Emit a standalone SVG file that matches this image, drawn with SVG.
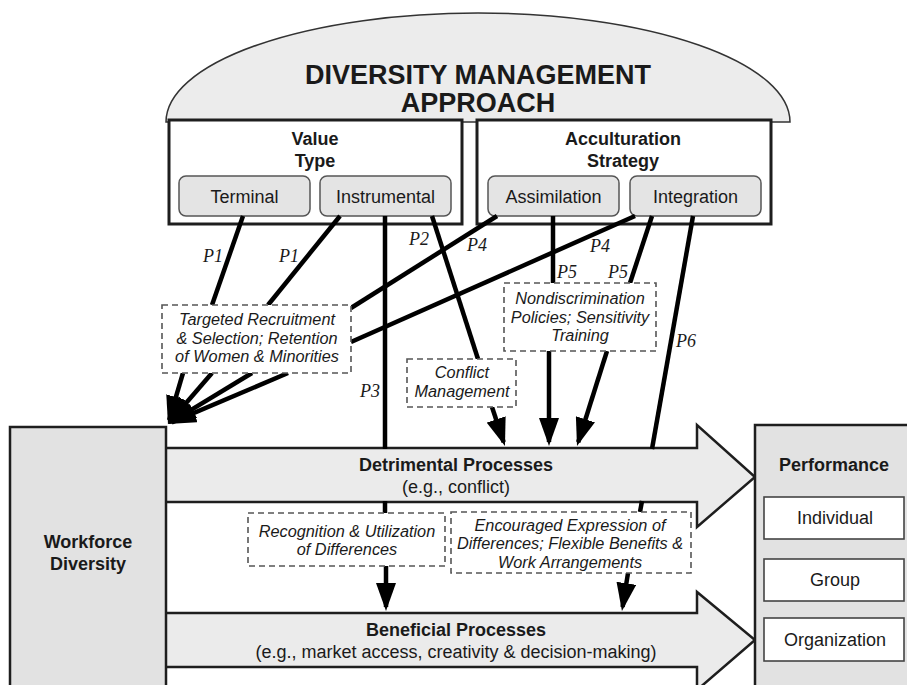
<svg xmlns="http://www.w3.org/2000/svg" width="907" height="685" viewBox="0 0 907 685">
  <style>
    .sans { font-family: "Liberation Sans", Arial, sans-serif; fill: #1a1a1a; }
    .title { font-size: 27px; font-weight: bold; }
    .head { font-size: 18px; font-weight: bold; }
    .pilltext { font-size: 18px; }
    .note { font-size: 16.3px; font-style: italic; }
    .plain { font-size: 18px; }
    .plabel { font-family: "Liberation Serif", "Times New Roman", serif; font-style: italic; font-size: 18px; fill: #1a1a1a; }
    .frame { fill: #ffffff; stroke: #1e1e1e; stroke-width: 3; }
    .pill { fill: #e4e4e4; stroke: #555555; stroke-width: 1.5; }
    .dash { fill: #ffffff; stroke: #555555; stroke-width: 1.6; stroke-dasharray: 6 4; }
    .band { fill: #ebebeb; stroke: #1e1e1e; stroke-width: 2.5; stroke-linejoin: miter; }
    .block { fill: #e2e2e2; stroke: #1e1e1e; stroke-width: 2.5; }
    .sub { fill: #ffffff; stroke: #444444; stroke-width: 1.6; }
    .link { stroke: #000000; stroke-width: 4.5; fill: none; }
    .arrow { stroke: #000000; stroke-width: 4.5; fill: none; marker-end: url(#ah); }
  </style>
  <defs>
    <marker id="ah" markerUnits="userSpaceOnUse" viewBox="0 0 28 20" markerWidth="28" markerHeight="20" refX="24" refY="10" orient="auto">
      <path d="M0,0 L28,10 L0,20 Z" fill="#000000"/>
    </marker>
  </defs>

  <!-- Diversity management approach (dome) -->
  <g id="approach">
    <path d="M166,122 A312,109 0 0 1 790,122 Z" fill="#ececec" stroke="#333333" stroke-width="1.5"/>
    <text class="sans title" x="478" y="84" text-anchor="middle">DIVERSITY MANAGEMENT</text>
    <text class="sans title" x="478" y="112" text-anchor="middle">APPROACH</text>
  </g>

  <g id="value-type">
    <rect class="frame" x="169" y="120" width="293" height="104"/>
    <text class="sans head" x="315" y="145" text-anchor="middle">Value</text>
    <text class="sans head" x="315" y="167" text-anchor="middle">Type</text>
  </g>
  <g id="terminal">
    <rect class="pill" x="179" y="176" width="131" height="40" rx="7"/>
    <text class="sans pilltext" x="244.5" y="203" text-anchor="middle">Terminal</text>
  </g>
  <g id="instrumental">
    <rect class="pill" x="320" y="176" width="131" height="40" rx="7"/>
    <text class="sans pilltext" x="385.5" y="203" text-anchor="middle">Instrumental</text>
  </g>

  <g id="acculturation-strategy">
    <rect class="frame" x="477" y="120" width="294" height="104"/>
    <text class="sans head" x="623" y="145" text-anchor="middle">Acculturation</text>
    <text class="sans head" x="623" y="167" text-anchor="middle">Strategy</text>
  </g>
  <g id="assimilation">
    <rect class="pill" x="488" y="176" width="131" height="40" rx="7"/>
    <text class="sans pilltext" x="553.5" y="203" text-anchor="middle">Assimilation</text>
  </g>
  <g id="integration">
    <rect class="pill" x="630" y="176" width="131" height="40" rx="7"/>
    <text class="sans pilltext" x="695.5" y="203" text-anchor="middle">Integration</text>
  </g>

  <!-- Process arrows -->
  <g id="detrimental">
    <path class="band" d="M165,448 L697,448 L697,425 L755,477 L697,527 L697,502 L165,502 Z"/>
    <text class="sans head" x="456" y="471" text-anchor="middle">Detrimental Processes</text>
    <text class="sans plain" x="456" y="493" text-anchor="middle">(e.g., conflict)</text>
  </g>
  <g id="beneficial">
    <path class="band" d="M165,613 L697,613 L697,592 L755,640 L697,690 L697,667 L165,667 Z"/>
    <text class="sans head" x="456" y="636" text-anchor="middle">Beneficial Processes</text>
    <text class="sans plain" x="456" y="658" text-anchor="middle">(e.g., market access, creativity &amp; decision-making)</text>
  </g>

  <g id="workforce-diversity">
    <rect class="block" x="10" y="427" width="156" height="270"/>
    <text class="sans head" x="88" y="548" text-anchor="middle">Workforce</text>
    <text class="sans head" x="88" y="570" text-anchor="middle">Diversity</text>
  </g>

  <g id="performance">
    <rect class="block" x="755" y="425" width="160" height="270"/>
    <text class="sans head" x="834" y="471" text-anchor="middle">Performance</text>
    <rect class="sub" x="764" y="497" width="140" height="42"/>
    <text class="sans pilltext" x="835" y="524" text-anchor="middle">Individual</text>
    <rect class="sub" x="764" y="559" width="140" height="42"/>
    <text class="sans pilltext" x="835" y="586" text-anchor="middle">Group</text>
    <rect class="sub" x="764" y="618" width="140" height="43"/>
    <text class="sans pilltext" x="835" y="646" text-anchor="middle">Organization</text>
  </g>

  <!-- Connectors -->
  <g id="connectors">
    <line class="link" x1="243" y1="216" x2="212" y2="305"/>
    <line class="link" x1="340" y1="216" x2="268" y2="305"/>
    <line class="link" x1="385" y1="216" x2="385" y2="449"/>
    <line class="link" x1="385" y1="501" x2="385" y2="513"/>
    <line class="link" x1="432" y1="216" x2="478" y2="359"/>
    <line class="link" x1="497" y1="216" x2="351" y2="308"/>
    <line class="link" x1="635" y1="216" x2="351" y2="342"/>
    <line class="link" x1="553" y1="216" x2="553" y2="283"/>
    <line class="link" x1="652" y1="216" x2="630" y2="283"/>
    <line class="link" x1="693" y1="216" x2="652" y2="449"/>
    <line class="link" x1="642" y1="501" x2="640" y2="512"/>
    <line class="arrow" x1="492" y1="407" x2="503.7" y2="442.2"/>
    <line class="arrow" x1="549" y1="351" x2="549" y2="442"/>
    <line class="arrow" x1="607" y1="351" x2="578.2" y2="442.2"/>
    <line class="arrow" x1="386" y1="566" x2="386" y2="607"/>
    <line class="arrow" x1="628" y1="573" x2="622.6" y2="607"/>
    <line class="arrow" x1="183" y1="373" x2="169.1" y2="420.2"/>
    <line class="arrow" x1="212" y1="373" x2="170.6" y2="421"/>
    <line class="arrow" x1="252" y1="373" x2="171.4" y2="421.9"/>
    <line class="arrow" x1="288" y1="373" x2="171.7" y2="422.4"/>
    <text class="plabel" x="213" y="262" text-anchor="middle">P1</text>
    <text class="plabel" x="289" y="262" text-anchor="middle">P1</text>
    <text class="plabel" x="419" y="245" text-anchor="middle">P2</text>
    <text class="plabel" x="370" y="397" text-anchor="middle">P3</text>
    <text class="plabel" x="477" y="251" text-anchor="middle">P4</text>
    <text class="plabel" x="600" y="252" text-anchor="middle">P4</text>
    <text class="plabel" x="567" y="278" text-anchor="middle">P5</text>
    <text class="plabel" x="618" y="278" text-anchor="middle">P5</text>
    <text class="plabel" x="686" y="347" text-anchor="middle">P6</text>
  </g>

  <!-- Mechanism notes (dashed) -->
  <g id="targeted-recruitment">
    <rect class="dash" x="162" y="305" width="189" height="68"/>
    <text class="sans note" x="257" y="325" text-anchor="middle">Targeted Recruitment</text>
    <text class="sans note" x="257" y="344" text-anchor="middle">&amp; Selection; Retention</text>
    <text class="sans note" x="257" y="362" text-anchor="middle">of Women &amp; Minorities</text>
  </g>
  <g id="conflict-management">
    <rect class="dash" x="407" y="359" width="109" height="48"/>
    <text class="sans note" x="462" y="378" text-anchor="middle">Conflict</text>
    <text class="sans note" x="462" y="397" text-anchor="middle">Management</text>
  </g>
  <g id="nondiscrimination">
    <rect class="dash" x="504" y="283" width="152" height="68"/>
    <text class="sans note" x="580" y="304" text-anchor="middle">Nondiscrimination</text>
    <text class="sans note" x="580" y="323" text-anchor="middle">Policies; Sensitivity</text>
    <text class="sans note" x="580" y="341" text-anchor="middle">Training</text>
  </g>
  <g id="recognition">
    <rect class="dash" x="248" y="513" width="197" height="53"/>
    <text class="sans note" x="347" y="537" text-anchor="middle">Recognition &amp; Utilization</text>
    <text class="sans note" x="347" y="555" text-anchor="middle">of Differences</text>
  </g>
  <g id="encouraged-expression">
    <rect class="dash" x="451" y="512" width="240" height="61"/>
    <text class="sans note" x="570" y="531" text-anchor="middle">Encouraged Expression of</text>
    <text class="sans note" x="570" y="549" text-anchor="middle">Differences; Flexible Benefits &amp;</text>
    <text class="sans note" x="570" y="568" text-anchor="middle">Work Arrangements</text>
  </g>
</svg>
